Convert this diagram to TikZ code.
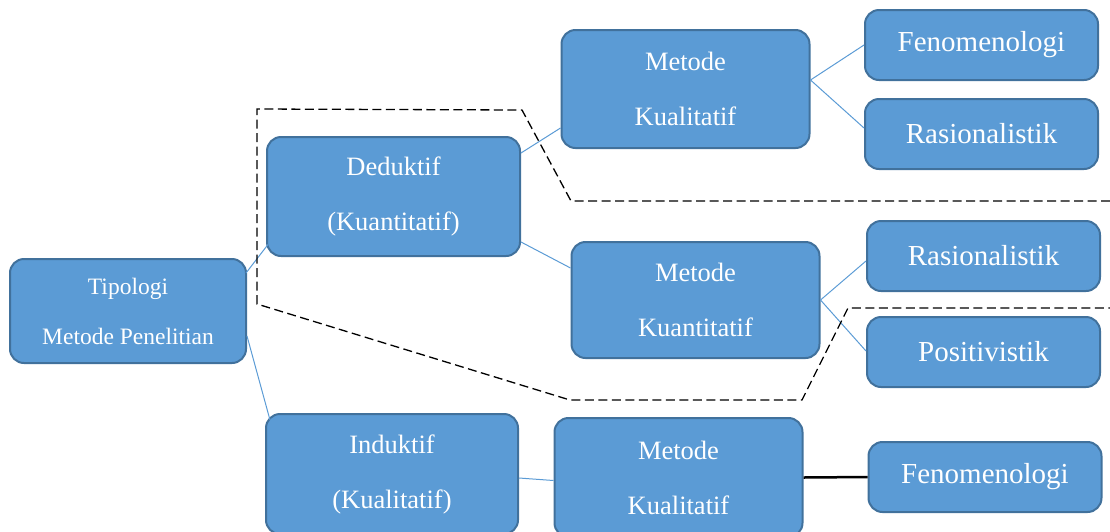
\documentclass[tikz,border=0pt]{standalone}
\usepackage{fontspec}
\setmainfont{Liberation Serif}
\usetikzlibrary{calc}
\definecolor{boxfill}{HTML}{5B9BD5}
\definecolor{boxline}{HTML}{41719C}
\begin{document}
\begin{tikzpicture}[x=1pt,y=-1pt,
  box/.style={draw=boxline, line width=2pt, fill=boxfill, rounded corners=14pt,
    text=white, inner sep=0pt, align=center},
  midbox/.style={box, minimum width=248pt, minimum height=118pt,
    font=\fontsize{26.5}{55}\selectfont},
  leafbox/.style={box, minimum width=233pt, minimum height=70pt,
    font=\fontsize{29}{34}\selectfont},
  conn/.style={draw=boxfill, line width=1pt},
  boldconn/.style={draw=black, line width=2.5pt},
  dashbound/.style={draw=black, line width=1.3pt, dash pattern=on 9pt off 4.5pt}]
\useasboundingbox (0,0) rectangle (1110,531);
\clip (0,0) rectangle (1110,531);

% nodes
\node[box, minimum width=236pt, minimum height=104pt,
  font=\fontsize{23.5}{50}\selectfont] (tip) at (128,311) {Tipologi\\Metode Penelitian};
\node[midbox, minimum width=253pt, minimum height=119pt] (ded) at (393.5,196.5) {Deduktif\\(Kuantitatif)};
\node[midbox, minimum width=252pt, minimum height=120pt] (ind) at (392,474) {Induktif\\(Kualitatif)};
\node[midbox] (mk1) at (685.5,89) {Metode\\Kualitatif};
\node[midbox, minimum height=116pt] (mkt) at (695.5,300) {Metode\\Kuantitatif};
\node[midbox, minimum height=119pt] (mk2) at (678.5,477.5) {Metode\\Kualitatif};
\node[leafbox] (fen1) at (981.5,45) {Fenomenologi};
\node[leafbox] (ras1) at (981.5,134) {Rasionalistik};
\node[leafbox] (ras2) at (983.5,256) {Rasionalistik};
\node[leafbox] (pos) at (983.5,352) {Positivistik};
\node[leafbox] (fen2) at (985,477) {Fenomenologi};

% connectors
\draw[conn] ($(tip.east)+(-1,-38)$) -- ($(ded.west)+(2,48)$);
\draw[conn] ($(tip.east)+(0,25)$) -- ($(ind.west)+(5,-54)$);
\draw[conn] ($(ded.east)+(0,-43.5)$) -- ($(mk1.west)+(0,39)$);
\draw[conn] ($(ded.east)+(0,45.5)$) -- ($(mkt.west)+(0,-32)$);
\draw[conn] ($(mk1.east)+(0,-9)$) -- (fen1.west);
\draw[conn] ($(mk1.east)+(0,-9)$) -- ($(ras1.west)+(0,-6)$);
\draw[conn] (mkt.east) -- ($(ras2.west)+(0,5)$);
\draw[conn] (mkt.east) -- ($(pos.west)+(0,-1)$);
\draw[conn] ($(ind.east)+(0,4)$) -- ($(mk2.west)+(0,3)$);
\draw[boldconn] (mk2.east) -- (fen2.west);

% dashed boundary
\draw[dashbound] (1110,201) -- (571,201) -- (522,110) -- (257,109) -- (257,304)
  -- (570,400) -- (802,400) -- (848,308) -- (1110,308);
\end{tikzpicture}
\end{document}
